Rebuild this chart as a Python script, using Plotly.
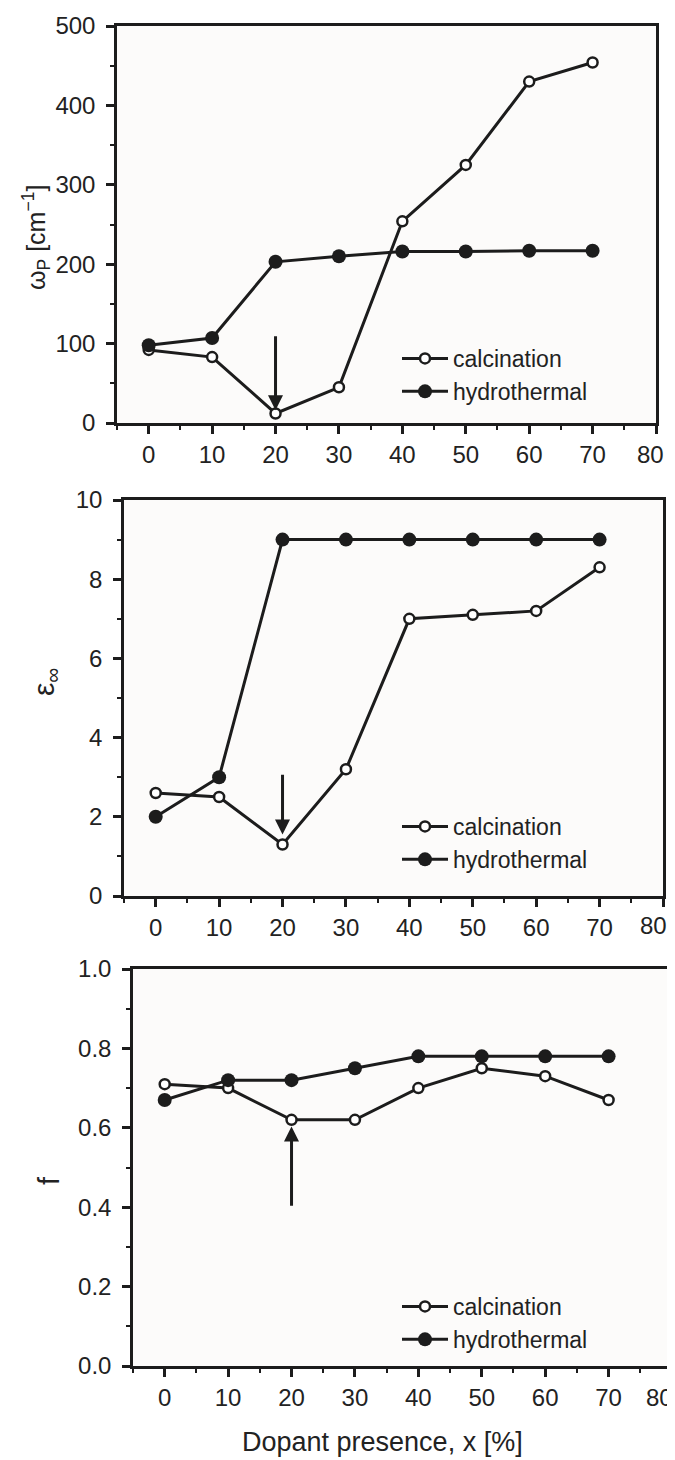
import plotly.graph_objects as go

# ---------------- data ----------------
dopant_x = [0, 10, 20, 30, 40, 50, 60, 70]
series_names = ["calcination", "hydrothermal"]

wp_calcination = [92, 83, 12, 45, 254, 325, 430, 454]
wp_hydrothermal = [98, 107, 203, 210, 216, 216, 217, 217]

eps_calcination = [2.6, 2.5, 1.3, 3.2, 7.0, 7.1, 7.2, 8.3]
eps_hydrothermal = [2.0, 3.0, 9.0, 9.0, 9.0, 9.0, 9.0, 9.0]

f_calcination = [0.71, 0.70, 0.62, 0.62, 0.70, 0.75, 0.73, 0.67]
f_hydrothermal = [0.67, 0.72, 0.72, 0.75, 0.78, 0.78, 0.78, 0.78]

x_tickvals = [0, 10, 20, 30, 40, 50, 60, 70, 80]
x_ticklabels = ["0", "10", "20", "30", "40", "50", "60", "70", "80"]
y_titles = ["ω<sub>P</sub> [cm<sup>−1</sup>]", "ε<sub>∞</sub>", "f"]
x_title = "Dopant presence, x [%]"

# arrows (tail value, tip value) at x = 20
arrow_x = 20
arrow_wp = (111, 16)
arrow_eps = (3.1, 1.55)
arrow_f = (0.40, 0.603)

# ---------------- styling ----------------
# the page body has an 8 px margin, so the figure is drawn 8 px smaller and
# all reference pixel positions are shifted by that offset
OFF = 8
VW, VH = 675, 1460
W, H = VW - OFF, VH - OFF
FONT = "Liberation Sans, Arial, Helvetica, sans-serif"
INK = "#1c1c1c"
TXT = "#222222"


def fx(px):
    return (px - OFF) / W


def fy(py):
    return 1 - (py - OFF) / H


panels = [
    dict(calc=wp_calcination, hydro=wp_hydrothermal, yrange=[0, 500], dtick=100,
         minor=50, fmt="d", xdom=[117, 656], ydom=[26, 423], arrow=arrow_wp,
         ytitle=(36, 238, 25), legend_top=337, last_shift=-6, last_y=-32),
    dict(calc=eps_calcination, hydro=eps_hydrothermal, yrange=[0, 10], dtick=2,
         minor=1, fmt="d", xdom=[124, 663], ydom=[500, 896], arrow=arrow_eps,
         ytitle=(45, 682, 30), legend_top=805, last_shift=-10, last_y=-29),
    dict(calc=f_calcination, hydro=f_hydrothermal, yrange=[0, 1.0], dtick=0.2,
         minor=0.1, fmt=".1f", xdom=[133, 672], ydom=[969, 1366], arrow=arrow_f,
         ytitle=(49, 1181, 29), legend_top=1285, last_shift=-13, last_y=-31),
]

fig = go.Figure()
layout = dict(
    width=W, height=H,
    margin=dict(l=0, r=0, t=0, b=0, autoexpand=False),
    paper_bgcolor="#ffffff",
    plot_bgcolor="#fcfbfa",
    font=dict(family=FONT, size=24, color=TXT),
    showlegend=True,
    annotations=[],
)

for i, p in enumerate(panels, start=1):
    sfx = "" if i == 1 else str(i)
    xa, ya = "x" + sfx, "y" + sfx
    leg = "legend" + sfx

    fig.add_trace(go.Scatter(
        x=dopant_x, y=p["calc"], name=series_names[0], mode="lines+markers",
        xaxis=xa, yaxis=ya, legend=leg,
        line=dict(color=INK, width=3),
        marker=dict(symbol="circle", size=10, color="#ffffff",
                    line=dict(color=INK, width=2.5)),
    ))
    fig.add_trace(go.Scatter(
        x=dopant_x, y=p["hydro"], name=series_names[1], mode="lines+markers",
        xaxis=xa, yaxis=ya, legend=leg,
        line=dict(color=INK, width=3),
        marker=dict(symbol="circle", size=14, color=INK,
                    line=dict(color=INK, width=0)),
    ))

    axis_common = dict(
        showline=True, linewidth=2.5, linecolor=INK, mirror=True,
        showgrid=False, zeroline=False, automargin=False,
        ticks="outside", ticklen=8, tickwidth=2.5, tickcolor=INK,
        tickfont=dict(family=FONT, size=24, color=TXT),
        ticklabeloverflow="allow",
    )
    # the last label ("80") sits left of its tick at the page edge in the
    # reference, so it is drawn as a separate text anchored to that tick
    labels = x_ticklabels[:-1] + [""]
    layout["xaxis" + sfx] = dict(
        axis_common,
        domain=[fx(p["xdom"][0]), fx(p["xdom"][1])],
        anchor=ya, range=[-5, 80], tickvals=x_tickvals, ticktext=labels,
        minor=dict(ticks="outside", ticklen=4, tickwidth=2, tickcolor=INK,
                   tick0=-5, dtick=10),
        ticklabelstandoff=0,
    )
    layout["yaxis" + sfx] = dict(
        axis_common,
        domain=[fy(p["ydom"][1]), fy(p["ydom"][0])],
        anchor=xa, range=p["yrange"], tick0=0, dtick=p["dtick"],
        tickformat=p["fmt"],
        minor=dict(ticks="outside", ticklen=4, tickwidth=2, tickcolor=INK,
                   dtick=p["minor"]),
        ticklabelstandoff=6,
    )
    layout["annotations"].append(dict(
        x=x_tickvals[-1], y=p["yrange"][0], xref=xa, yref=ya,
        text=x_ticklabels[-1], showarrow=False,
        xanchor="center", yanchor="middle",
        xshift=p["last_shift"], yshift=p["last_y"],
        font=dict(family=FONT, size=24, color=TXT),
    ))
    layout[leg] = dict(
        x=fx(397), y=fy(p["legend_top"]),
        xanchor="left", yanchor="top",
        bgcolor="rgba(0,0,0,0)", borderwidth=0,
        font=dict(family=FONT, size=23, color=TXT),
        itemwidth=46, tracegroupgap=0,
    )
    tail, tip = p["arrow"]
    layout["annotations"].append(dict(
        x=arrow_x, y=tip, ax=arrow_x, ay=tail, xref=xa, yref=ya,
        axref=xa, ayref=ya, text="", showarrow=True,
        arrowhead=2, arrowsize=1.0, arrowwidth=3, arrowcolor=INK, standoff=0,
    ))
    tx, ty, tsize = p["ytitle"]
    layout["annotations"].append(dict(
        x=fx(tx), y=fy(ty),
        xref="paper", yref="paper", text=y_titles[i - 1], textangle=-90,
        showarrow=False, font=dict(family=FONT, size=tsize, color=TXT),
        xanchor="center", yanchor="middle",
    ))

layout["annotations"].append(dict(
    x=fx(382), y=fy(1442), xref="paper", yref="paper", text=x_title,
    showarrow=False, font=dict(family=FONT, size=27, color=TXT),
    xanchor="center", yanchor="middle",
))

fig.update_layout(**layout)
fig.write_html("out.html")
